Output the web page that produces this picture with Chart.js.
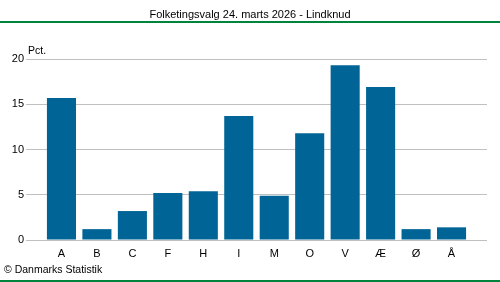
<!DOCTYPE html>
<html>
<head>
<meta charset="utf-8">
<script src="https://cdn.jsdelivr.net/npm/chart.js@4/dist/chart.umd.min.js"></script>
<style>
  html, body { margin: 0; padding: 0; background: #fff; }
  #wrap { width: 500px; height: 282px; }
</style>
</head>
<body>
<div id="wrap"><canvas id="c" width="500" height="282"></canvas></div>
<script>
const titleText = 'Folketingsvalg 24. marts 2026 - Lindknud';
const unitLabel = 'Pct.';
const sourceText = '© Danmarks Statistik';

const categories = ['A', 'B', 'C', 'F', 'H', 'I', 'M', 'O', 'V', 'Æ', 'Ø', 'Å'];
const shares = [15.7, 1.2, 3.2, 5.2, 5.4, 13.7, 4.9, 11.8, 19.3, 16.9, 1.2, 1.4];
const yTicks = [0, 5, 10, 15, 20];

const FONT = '"Liberation Sans", Arial, sans-serif';
const GREEN = '#00843d';

// title, green rules, unit label and source line
const frame = {
    id: 'frame',
    afterDraw(chart) {
        const ctx = chart.ctx;
        const w = chart.width;
        ctx.save();
        ctx.fillStyle = GREEN;
        ctx.fillRect(0, 21, w, 2);
        ctx.fillRect(0, 280, w, 2);

        ctx.fillStyle = '#000';
        ctx.textBaseline = 'middle';
        ctx.textAlign = 'center';
        ctx.font = '11px ' + FONT;
        ctx.fillText(titleText, w / 2, 15);

        ctx.textAlign = 'left';
        ctx.font = '10.5px ' + FONT;
        ctx.fillText(unitLabel, 28, 51);
        ctx.fillText(sourceText, 4, 270);
        ctx.restore();
    }
};

new Chart(document.getElementById('c'), {
    type: 'bar',
    data: {
        datasets: [{
            data: shares.map((v, i) => ({ x: i, y: v })),
            backgroundColor: '#006496',
            borderWidth: 0,
            categoryPercentage: 1,
            barPercentage: 0.82
        }]
    },
    options: {
        responsive: false,
        animation: false,
        layout: { padding: { top: 59, right: 13, left: 0, bottom: 0 } },
        plugins: {
            legend: { display: false },
            tooltip: { enabled: false }
        },
        scales: {
            x: {
                type: 'linear',
                offset: false,
                min: -1,
                max: 12,
                afterFit: s => { s.height = 42; },
                afterBuildTicks: s => {
                    s.ticks = categories.map((c, i) => ({ value: i }));
                },
                grid: { display: false, drawTicks: false },
                border: { display: false },
                ticks: {
                    autoSkip: false,
                    maxRotation: 0,
                    padding: 7,
                    color: '#000',
                    font: { family: FONT, size: 11 },
                    callback: v => categories[v] ?? ''
                }
            },
            y: {
                min: 0,
                max: 20,
                afterFit: s => { s.width = 26; },
                afterBuildTicks: s => {
                    s.ticks = yTicks.map(v => ({ value: v }));
                },
                grid: { color: '#c0c0c0', lineWidth: 1, drawTicks: false },
                border: { display: false },
                ticks: {
                    padding: 2,
                    color: '#000',
                    font: { family: FONT, size: 11 }
                }
            }
        }
    },
    plugins: [frame]
});
</script>
</body>
</html>
